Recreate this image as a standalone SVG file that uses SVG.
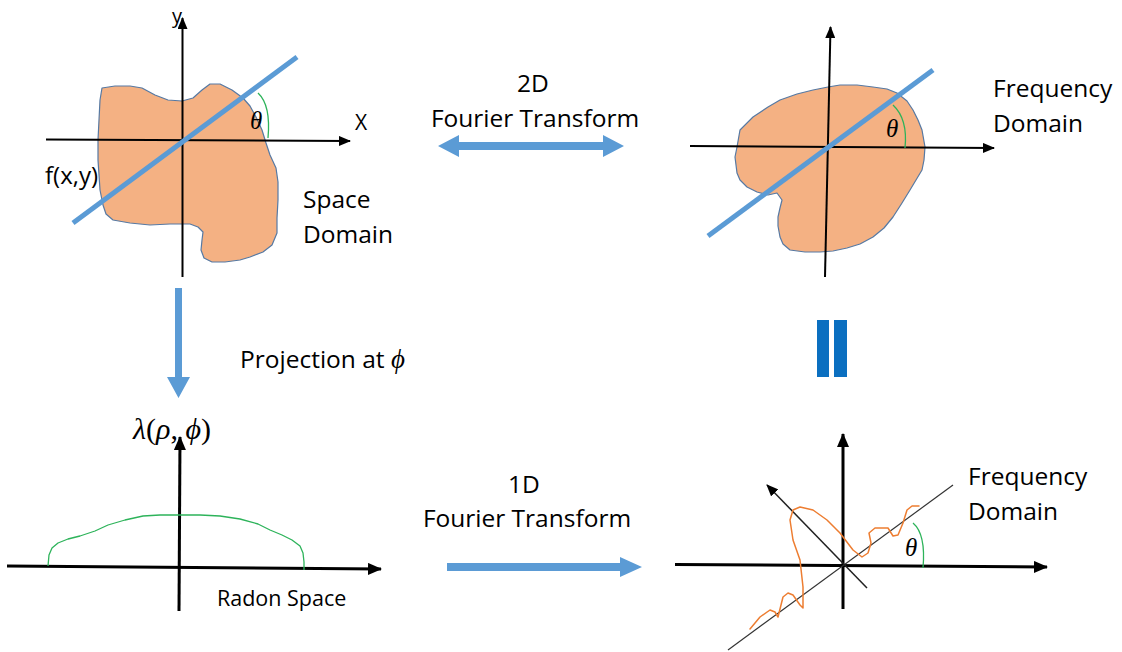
<svg xmlns="http://www.w3.org/2000/svg" width="1122" height="652" viewBox="0 0 1122 652">
<style>
.lbl{font-family:"Open Sans","Noto Sans",sans-serif;fill:#000}
.math{font-family:"Liberation Serif","DejaVu Serif",serif;font-style:italic;fill:#000}
.ax{stroke:#000;stroke-width:2;fill:none}
.axb{stroke:#000;stroke-width:3;fill:none}
.blob{fill:#F4B183;stroke:#5679A3;stroke-width:1.2;stroke-linejoin:round}
.bline{stroke:#5B9BD5;stroke-width:5;stroke-linecap:butt}
.garc{stroke:#2DB35A;stroke-width:1.3;fill:none}
.blue{fill:#5B9BD5}
</style>
<defs>
<marker id="ah" markerUnits="userSpaceOnUse" markerWidth="12" markerHeight="10" refX="11" refY="5" orient="auto">
<path d="M0,0 L12,5 L0,10 z" fill="#000"/>
</marker>
<marker id="ahb" markerUnits="userSpaceOnUse" markerWidth="14" markerHeight="12" refX="13" refY="6" orient="auto">
<path d="M0,0 L14,6 L0,12 z" fill="#000"/>
</marker>
</defs>
<rect width="1122" height="652" fill="#fff"/>

<g id="space-domain">
<path class="blob" d="M102,88 L115,86 L130,86 L142,88 L155,95 L168,100 L182,101 L193,98 L202,90 L210,84 L220,84 L232,90 L243,98 L250,106 L256,117 L262,130 L266,143 L270,155 L276,168 L278,182 L278,200 L277,218 L277,233 L272,245 L263,252 L250,257 L240,260 L225,262 L212,262 L204,258 L201,250 L202,240 L203,232 L198,227 L190,224 L170,224 L150,225 L130,223 L113,220 L106,214 L103,205 L100,190 L99,175 L98,160 L98,140 L99,120 L100,100 Z"/>
<line class="ax" x1="182.5" y1="277" x2="182.5" y2="18" marker-end="url(#ah)"/>
<line class="ax" x1="46" y1="139.5" x2="350" y2="141" marker-end="url(#ah)"/>
<line class="bline" x1="73" y1="223" x2="297" y2="57"/>
<path class="garc" d="M258,93 Q271,105 268,138"/>
<text class="math" x="250" y="129" font-size="25">θ</text>
<text class="lbl" x="172" y="23" font-size="20">y</text>
<text class="lbl" x="355" y="130" font-size="21">X</text>
<text class="lbl" x="45" y="184" font-size="24">f(x,y)</text>
<text class="lbl" x="303" y="208" font-size="24.5">Space</text>
<text class="lbl" x="303" y="243" font-size="24.5">Domain</text>
</g>

<g id="frequency-domain-2d">
<path class="blob" d="M737,147 L740,130 L753,117 L768,107 L780,100 L797,94 L813,90 L828,87 L840,85 L857,85 L873,87 L887,89 L897,93 L907,101 L913,110 L918,120 L922,130 L925,147 L924,160 L922,170 L916,180 L910,190 L902,203 L893,217 L884,228 L873,237 L860,244 L847,248 L833,251 L820,252 L805,252 L790,250 L783,244 L780,237 L778,226 L778,217 L780,208 L782,200 L777,193 L768,195 L757,192 L747,187 L740,180 L737,173 L735,157 Z"/>
<line class="ax" x1="825" y1="277" x2="830.5" y2="27" marker-end="url(#ah)"/>
<line class="ax" x1="690" y1="146" x2="994" y2="148" marker-end="url(#ah)"/>
<line class="bline" x1="708" y1="236" x2="933" y2="70"/>
<path class="garc" d="M893,105 Q908,119 905,148"/>
<text class="math" x="886" y="137" font-size="25">θ</text>
<text class="lbl" x="993" y="97" font-size="24.5">Frequency</text>
<text class="lbl" x="993" y="132" font-size="24.5">Domain</text>
</g>

<g id="radon-space">
<line class="axb" x1="7" y1="566" x2="381" y2="569" marker-end="url(#ahb)"/>
<line class="axb" x1="179" y1="611" x2="180" y2="437" marker-end="url(#ahb)"/>
<path fill="none" stroke="#2DB35A" stroke-width="1.3" stroke-linejoin="round" d="M48,566 L49,555 L52,548 L58,543 L68,539 L80,536 L95,531 L108,525 L125,520 L143,516 L160,515 L180,515 L200,515 L220,516 L240,519 L258,524 L270,530 L282,535 L292,540 L300,546 L303,553 L304,562 L304,570"/>
<text class="math" x="133" y="439" font-size="30"><tspan>λ</tspan><tspan font-style="normal">(</tspan>ρ<tspan font-style="normal">, </tspan>ϕ<tspan font-style="normal">)</tspan></text>
<text class="lbl" x="217" y="606" font-size="21.5">Radon Space</text>
</g>

<g id="frequency-domain-1d">
<line class="axb" x1="675" y1="564.5" x2="1047" y2="567" marker-end="url(#ahb)"/>
<line class="axb" x1="843" y1="609" x2="843" y2="434" marker-end="url(#ahb)"/>
<line x1="728" y1="650" x2="953" y2="485" stroke="#333" stroke-width="1.2"/>
<line x1="867" y1="588" x2="767" y2="485" stroke="#222" stroke-width="1.5" marker-end="url(#ah)"/>
<path fill="none" stroke="#ED7D31" stroke-width="1.5" stroke-linejoin="round" stroke-linecap="round" d="M750,629 L760,617 L770,610 L775,612 L778,617 L783,597 L788,593 L793,595 L800,605 L803,608 L803,587 L800,560 L793,540 L790,520 L793,510 L800,507 L813,510 L827,520 L840,533 L853,550 L862,557 L868,553 L871,543 L869,533 L875,528 L888,528 L893,536 L898,535 L903,523 L907,510 L912,506 L919,506"/>
<path class="garc" d="M913,523 Q926,534 923,568"/>
<text class="math" x="905" y="556" font-size="25">θ</text>
<text class="lbl" x="968" y="485" font-size="24.5">Frequency</text>
<text class="lbl" x="968" y="520" font-size="24.5">Domain</text>
</g>

<g id="equals">
<rect x="817" y="320" width="12" height="57" fill="#0B6FC0"/>
<rect x="834" y="320" width="13" height="57" fill="#0B6FC0"/>
</g>

<g id="connectors">
<polygon class="blue" points="438,146 459,135 459,142 603,142 603,135 624,146 603,157 603,150 459,150 459,157"/>
<polygon class="blue" points="175,288 182,288 182,377 190,377 178.5,398 167,377 175,377"/>
<polygon class="blue" points="447,563 620,563 620,557 642,567 620,577 620,571 447,571"/>
<text class="lbl" x="533" y="92" font-size="24.5" text-anchor="middle">2D</text>
<text class="lbl" x="535" y="127" font-size="24.5" text-anchor="middle">Fourier Transform</text>
<text class="lbl" x="240" y="368" font-size="24.5">Projection at <tspan class="math" font-size="27">ϕ</tspan></text>
<text class="lbl" x="524" y="493" font-size="24.5" text-anchor="middle">1D</text>
<text class="lbl" x="527" y="527" font-size="24.5" text-anchor="middle">Fourier Transform</text>
</g>
</svg>
